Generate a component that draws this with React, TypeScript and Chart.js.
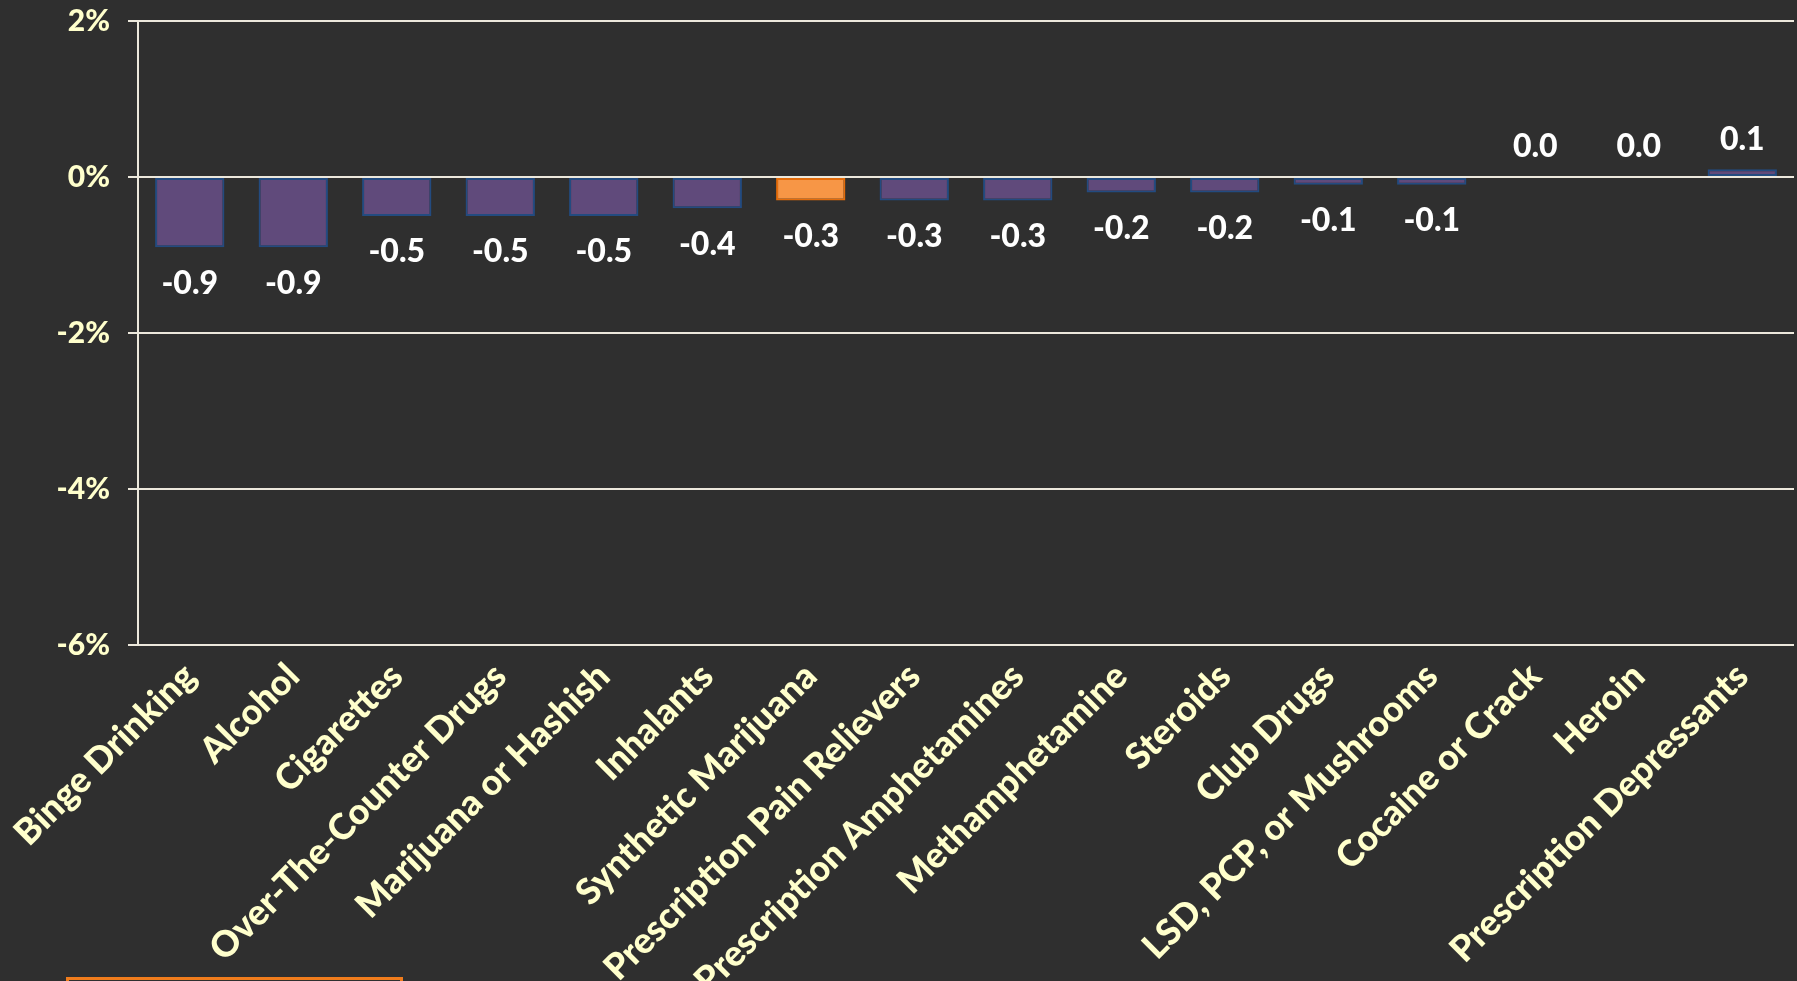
import React, { useEffect, useRef } from "react";
import { Chart, registerables } from "chart.js";

Chart.register(...registerables);

const categories = [
  "Binge Drinking",
  "Alcohol",
  "Cigarettes",
  "Over-The-Counter Drugs",
  "Marijuana or Hashish",
  "Inhalants",
  "Synthetic Marijuana",
  "Prescription Pain Relievers",
  "Prescription Amphetamines",
  "Methamphetamine",
  "Steroids",
  "Club Drugs",
  "LSD, PCP, or Mushrooms",
  "Cocaine or Crack",
  "Heroin",
  "Prescription Depressants",
];

const changeValues = [
  -0.9, -0.9, -0.5, -0.5, -0.5, -0.4, -0.3, -0.3, -0.3, -0.2, -0.2, -0.1, -0.1, 0.0, 0.0, 0.1,
];

const highlightIndex = 6;

const yMin = -6;
const yMax = 2;
const yStep = 2;

const BG = "#2f2f2f";
const CREAM = "#ece8dc";
const YELLOW = "#ffffcc";
const PURPLE = "#604a7b";
const PURPLE_BORDER = "#234b80";
const ORANGE = "#f79646";
const ORANGE_BORDER = "#e46c0a";
const FONT = "Lato, 'Open Sans', sans-serif";

const valueLabelPlugin = {
  id: "valueLabels",
  afterDatasetsDraw(chart: any) {
    const { ctx } = chart;
    const meta = chart.getDatasetMeta(0);
    const yZero = chart.scales.y.getPixelForValue(0);
    ctx.save();
    ctx.font = `900 32px ${FONT}`;
    ctx.fillStyle = "#ffffff";
    ctx.textAlign = "center";
    ctx.textBaseline = "middle";
    meta.data.forEach((bar: any, i: number) => {
      const v = changeValues[i];
      const y = v < 0 ? bar.y + 36 : Math.min(bar.y, yZero) - 30;
      ctx.fillText(v.toFixed(1), bar.x, y);
    });
    ctx.restore();
  },
};

export default function App() {
  const canvasRef = useRef<HTMLCanvasElement | null>(null);

  useEffect(() => {
    if (!canvasRef.current) return;
    const chart = new Chart(canvasRef.current, {
      type: "bar",
      data: {
        labels: categories,
        datasets: [
          {
            data: changeValues,
            backgroundColor: changeValues.map((_, i) => (i === highlightIndex ? ORANGE : PURPLE)),
            borderColor: changeValues.map((_, i) => (i === highlightIndex ? ORANGE_BORDER : PURPLE_BORDER)),
            borderWidth: 2,
            borderSkipped: false,
            barPercentage: 0.67,
            categoryPercentage: 1,
          },
        ],
      },
      options: {
        animation: false,
        responsive: false,
        maintainAspectRatio: false,
        layout: { padding: { top: 21, right: 3, left: 0, bottom: 0 } },
        plugins: {
          legend: { display: false },
          tooltip: { enabled: false },
        },
        scales: {
          x: {
            grid: { display: false },
            border: { display: false },
            ticks: {
              color: YELLOW,
              font: { family: FONT, weight: "900", size: 36 },
              maxRotation: 45,
              minRotation: 45,
              autoSkip: false,
              padding: 2,
            },
            afterFit(scale: any) {
              scale.height = 336;
              scale.paddingLeft = 0;
              scale.paddingRight = 0;
            },
          },
          y: {
            min: yMin,
            max: yMax,
            ticks: {
              stepSize: yStep,
              color: YELLOW,
              font: { family: FONT, weight: "900", size: 30 },
              padding: 18,
              callback: (v: any) => `${v}%`,
            },
            grid: {
              color: CREAM,
              lineWidth: 2,
              tickLength: 10,
              tickColor: CREAM,
            },
            border: { display: true, color: CREAM, width: 2 },
            afterFit(scale: any) {
              scale.width = 138;
              scale.paddingTop = 0;
              scale.paddingBottom = 0;
            },
          },
        },
      },
      plugins: [valueLabelPlugin],
    });
    return () => chart.destroy();
  }, []);

  return (
    <div
      style={{
        position: "fixed",
        left: 0,
        top: 0,
        width: 1797,
        height: 981,
        background: BG,
        overflow: "hidden",
      }}
    >
      <canvas ref={canvasRef} width={1797} height={981} style={{ display: "block" }} />
      <div
        style={{
          position: "absolute",
          left: 66,
          top: 977,
          width: 337,
          height: 30,
          border: "3px solid #f07c1c",
          boxSizing: "border-box",
        }}
      />
    </div>
  );
}
